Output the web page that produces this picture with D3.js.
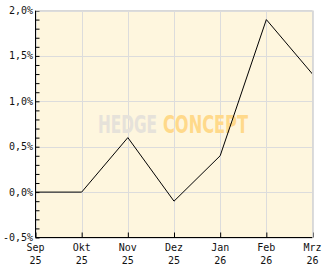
<!DOCTYPE html>
<html>
<head>
<meta charset="utf-8">
<title>chart</title>
<style>
body { margin:0; background:white; }
svg { display:block; }
</style>
<script src="https://d3js.org/d3.v7.min.js"></script>
</head>
<body>
<div id="chart"></div>
<script>
var months = ["Sep", "Okt", "Nov", "Dez", "Jan", "Feb", "Mrz"];
var years = ["25", "25", "25", "25", "26", "26", "26"];
var values = [0.0, 0.0, 0.6, -0.1, 0.4, 1.9, 1.3];
var yTicks = [-0.5, 0, 0.5, 1.0, 1.5, 2.0];

var width = 332, height = 269;
var pLeft = 35.5, pRight = 312.5, pTop = 10.5, pBottom = 237.5;

var svg = d3.select("#chart").append("svg")
  .attr("width", width).attr("height", height);

var x = d3.scalePoint().domain(d3.range(months.length)).range([pLeft, pRight]);
var y = d3.scaleLinear().domain([-0.5, 2.0]).range([pBottom, pTop]);

// background
svg.append("rect")
  .attr("x", pLeft).attr("y", pTop)
  .attr("width", pRight - pLeft).attr("height", pBottom - pTop)
  .attr("fill", "#fef6de");

// grid
svg.append("g").selectAll("line").data(yTicks).join("line")
  .attr("x1", pLeft).attr("x2", pRight)
  .attr("y1", d => Math.round(y(d)) + 0.5).attr("y2", d => Math.round(y(d)) + 0.5)
  .attr("stroke", "#dcdcdc").attr("stroke-width", 1);
svg.append("g").selectAll("line").data(d3.range(months.length)).join("line")
  .attr("x1", d => Math.round(x(d)) + 0.5).attr("x2", d => Math.round(x(d)) + 0.5)
  .attr("y1", pTop).attr("y2", pBottom)
  .attr("stroke", "#dcdcdc").attr("stroke-width", 1);

// watermark
var wmFont = "Liberation Sans Narrow, DejaVu Sans Condensed, sans-serif";
svg.append("text")
  .attr("x", 98).attr("y", 133)
  .attr("font-family", wmFont).attr("font-weight", "bold").attr("font-size", 25)
  .attr("textLength", 59).attr("lengthAdjust", "spacingAndGlyphs")
  .attr("fill", "#e6e2da").text("HEDGE");
svg.append("text")
  .attr("x", 163).attr("y", 133)
  .attr("font-family", wmFont).attr("font-weight", "bold").attr("font-size", 25)
  .attr("textLength", 85).attr("lengthAdjust", "spacingAndGlyphs")
  .attr("fill", "#ffd98a").text("CONCEPT");

// line
var line = d3.line().x((d, i) => x(i)).y(d => y(d));
svg.append("path").datum(values)
  .attr("d", line)
  .attr("fill", "none")
  .attr("stroke", "black")
  .attr("stroke-width", 1);

// left axis
var yAxis = d3.axisRight(y)
  .tickValues(d3.range(-5, 21).map(d => d / 10))
  .tickSize(4).tickFormat("");
svg.append("g").attr("transform", "translate(" + pLeft + ",0)").call(yAxis)
  .call(g => g.select(".domain").attr("d", "M0," + pTop + "V" + pBottom))
  .call(g => g.selectAll("line").attr("stroke", "black"));

svg.append("g").selectAll("text").data(yTicks).join("text")
  .attr("x", 33).attr("y", d => y(d) + 3.5)
  .attr("text-anchor", "end")
  .attr("font-family", "DejaVu Sans Mono, monospace")
  .attr("font-size", 10)
  .attr("fill", "#111")
  .text(d => d3.format(".1f")(d).replace(".", ",").replace("\u2212", "-") + "%");

// bottom axis
var xAxis = d3.axisTop(x).tickSize(5).tickFormat("");
svg.append("g").attr("transform", "translate(0," + pBottom + ")").call(xAxis)
  .call(g => g.select(".domain").attr("d", "M" + pLeft + ",0H" + pRight))
  .call(g => g.selectAll("line").attr("stroke", "black"));

var xl = svg.append("g").selectAll("text").data(d3.range(months.length)).join("text")
  .attr("x", d => x(d)).attr("y", 251)
  .attr("text-anchor", "middle")
  .attr("font-family", "DejaVu Sans Mono, monospace")
  .attr("font-size", 10)
  .attr("fill", "#111");
xl.append("tspan").attr("x", d => x(d)).text(d => months[d]);
xl.append("tspan").attr("x", d => x(d)).attr("dy", 13).text(d => years[d]);

// top and right frame
svg.append("path")
  .attr("d", "M" + pLeft + "," + pTop + "H" + pRight + "V" + pBottom)
  .attr("fill", "none").attr("stroke", "#d8d8d8");
</script>
</body>
</html>
